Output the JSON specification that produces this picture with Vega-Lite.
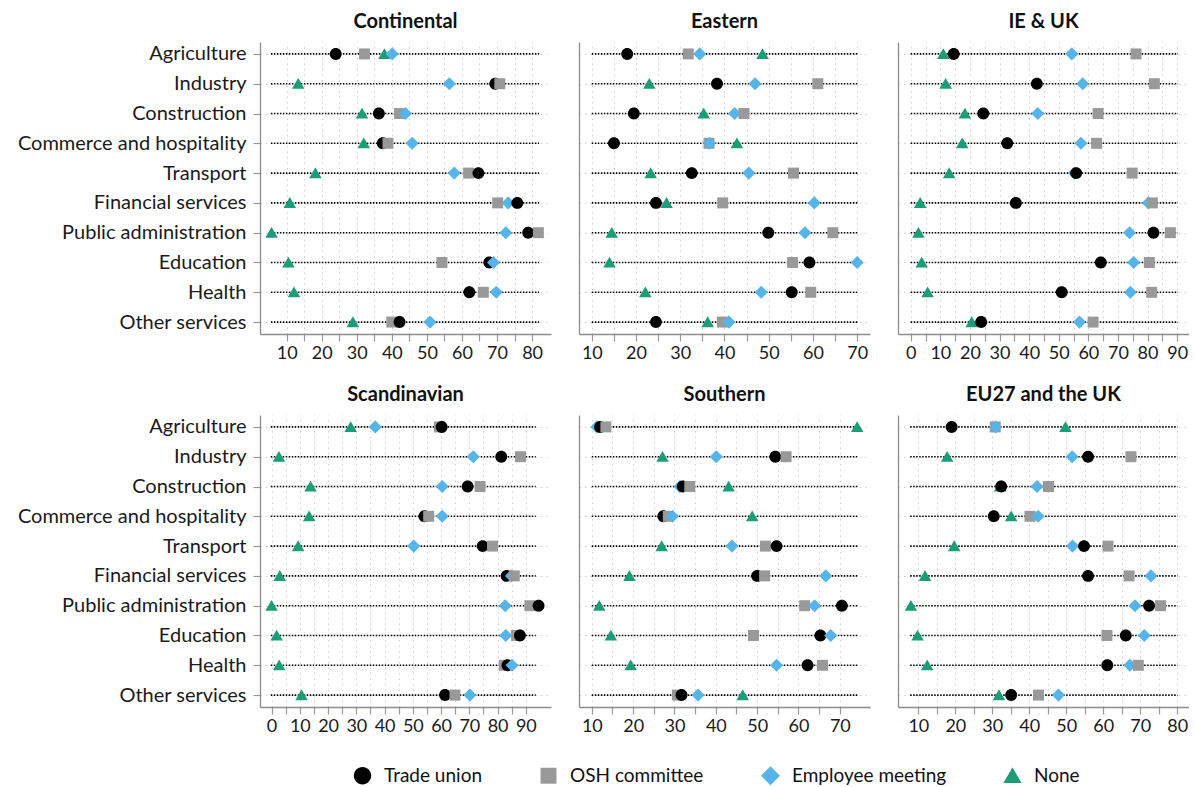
{
  "$schema": "https://vega.github.io/schema/vega-lite/v6.json",
  "padding": {"left": 10, "top": 12, "right": 0, "bottom": 0},
  "spacing": 23,
  "datasets": {
    "ext": [
      {"p": "Continental", "lo": 5.5, "hi": 82},
      {"p": "Eastern", "lo": 10, "hi": 70.2},
      {"p": "IE & UK", "lo": 0, "hi": 90.3},
      {"p": "Scandinavian", "lo": -0.3, "hi": 93.5},
      {"p": "Southern", "lo": 10, "hi": 74.5},
      {"p": "EU27 and the UK", "lo": 7.8, "hi": 80.1}
    ],
    "pts": [
      {"p": "Continental", "s": "Agriculture", "t": "Trade union", "v": 24.0},
      {"p": "Continental", "s": "Agriculture", "t": "OSH committee", "v": 32.2},
      {"p": "Continental", "s": "Agriculture", "t": "Employee meeting", "v": 40.1},
      {"p": "Continental", "s": "Agriculture", "t": "None", "v": 37.9},
      {"p": "Continental", "s": "Industry", "t": "Trade union", "v": 69.5},
      {"p": "Continental", "s": "Industry", "t": "OSH committee", "v": 70.8},
      {"p": "Continental", "s": "Industry", "t": "Employee meeting", "v": 56.4},
      {"p": "Continental", "s": "Industry", "t": "None", "v": 13.3},
      {"p": "Continental", "s": "Construction", "t": "Trade union", "v": 36.3},
      {"p": "Continental", "s": "Construction", "t": "OSH committee", "v": 42.2},
      {"p": "Continental", "s": "Construction", "t": "Employee meeting", "v": 43.9},
      {"p": "Continental", "s": "Construction", "t": "None", "v": 31.5},
      {"p": "Continental", "s": "Commerce and hospitality", "t": "Trade union", "v": 37.4},
      {"p": "Continental", "s": "Commerce and hospitality", "t": "OSH committee", "v": 38.9},
      {"p": "Continental", "s": "Commerce and hospitality", "t": "Employee meeting", "v": 45.8},
      {"p": "Continental", "s": "Commerce and hospitality", "t": "None", "v": 32.0},
      {"p": "Continental", "s": "Transport", "t": "Trade union", "v": 64.7},
      {"p": "Continental", "s": "Transport", "t": "OSH committee", "v": 61.9},
      {"p": "Continental", "s": "Transport", "t": "Employee meeting", "v": 57.8},
      {"p": "Continental", "s": "Transport", "t": "None", "v": 18.2},
      {"p": "Continental", "s": "Financial services", "t": "Trade union", "v": 75.8},
      {"p": "Continental", "s": "Financial services", "t": "OSH committee", "v": 70.2},
      {"p": "Continental", "s": "Financial services", "t": "Employee meeting", "v": 73.2},
      {"p": "Continental", "s": "Financial services", "t": "None", "v": 10.9},
      {"p": "Continental", "s": "Public administration", "t": "Trade union", "v": 78.9},
      {"p": "Continental", "s": "Public administration", "t": "OSH committee", "v": 81.8},
      {"p": "Continental", "s": "Public administration", "t": "Employee meeting", "v": 72.5},
      {"p": "Continental", "s": "Public administration", "t": "None", "v": 5.7},
      {"p": "Continental", "s": "Education", "t": "Trade union", "v": 67.8},
      {"p": "Continental", "s": "Education", "t": "OSH committee", "v": 54.3},
      {"p": "Continental", "s": "Education", "t": "Employee meeting", "v": 69.0},
      {"p": "Continental", "s": "Education", "t": "None", "v": 10.5},
      {"p": "Continental", "s": "Health", "t": "Trade union", "v": 62.1},
      {"p": "Continental", "s": "Health", "t": "OSH committee", "v": 66.1},
      {"p": "Continental", "s": "Health", "t": "Employee meeting", "v": 69.8},
      {"p": "Continental", "s": "Health", "t": "None", "v": 12.1},
      {"p": "Continental", "s": "Other services", "t": "Trade union", "v": 42.2},
      {"p": "Continental", "s": "Other services", "t": "OSH committee", "v": 40.0},
      {"p": "Continental", "s": "Other services", "t": "Employee meeting", "v": 50.9},
      {"p": "Continental", "s": "Other services", "t": "None", "v": 28.9},

      {"p": "Eastern", "s": "Agriculture", "t": "Trade union", "v": 18.0},
      {"p": "Eastern", "s": "Agriculture", "t": "OSH committee", "v": 31.8},
      {"p": "Eastern", "s": "Agriculture", "t": "Employee meeting", "v": 34.4},
      {"p": "Eastern", "s": "Agriculture", "t": "None", "v": 48.6},
      {"p": "Eastern", "s": "Industry", "t": "Trade union", "v": 38.3},
      {"p": "Eastern", "s": "Industry", "t": "OSH committee", "v": 61.1},
      {"p": "Eastern", "s": "Industry", "t": "Employee meeting", "v": 46.9},
      {"p": "Eastern", "s": "Industry", "t": "None", "v": 23.0},
      {"p": "Eastern", "s": "Construction", "t": "Trade union", "v": 19.5},
      {"p": "Eastern", "s": "Construction", "t": "OSH committee", "v": 44.4},
      {"p": "Eastern", "s": "Construction", "t": "Employee meeting", "v": 42.3},
      {"p": "Eastern", "s": "Construction", "t": "None", "v": 35.3},
      {"p": "Eastern", "s": "Commerce and hospitality", "t": "Trade union", "v": 15.0},
      {"p": "Eastern", "s": "Commerce and hospitality", "t": "OSH committee", "v": 36.5},
      {"p": "Eastern", "s": "Commerce and hospitality", "t": "Employee meeting", "v": 36.6},
      {"p": "Eastern", "s": "Commerce and hospitality", "t": "None", "v": 42.8},
      {"p": "Eastern", "s": "Transport", "t": "Trade union", "v": 32.6},
      {"p": "Eastern", "s": "Transport", "t": "OSH committee", "v": 55.6},
      {"p": "Eastern", "s": "Transport", "t": "Employee meeting", "v": 45.5},
      {"p": "Eastern", "s": "Transport", "t": "None", "v": 23.3},
      {"p": "Eastern", "s": "Financial services", "t": "Trade union", "v": 24.5},
      {"p": "Eastern", "s": "Financial services", "t": "OSH committee", "v": 39.6},
      {"p": "Eastern", "s": "Financial services", "t": "Employee meeting", "v": 60.3},
      {"p": "Eastern", "s": "Financial services", "t": "None", "v": 26.9},
      {"p": "Eastern", "s": "Public administration", "t": "Trade union", "v": 49.9},
      {"p": "Eastern", "s": "Public administration", "t": "OSH committee", "v": 64.5},
      {"p": "Eastern", "s": "Public administration", "t": "Employee meeting", "v": 58.2},
      {"p": "Eastern", "s": "Public administration", "t": "None", "v": 14.5},
      {"p": "Eastern", "s": "Education", "t": "Trade union", "v": 59.2},
      {"p": "Eastern", "s": "Education", "t": "OSH committee", "v": 55.4},
      {"p": "Eastern", "s": "Education", "t": "Employee meeting", "v": 70.0},
      {"p": "Eastern", "s": "Education", "t": "None", "v": 14.0},
      {"p": "Eastern", "s": "Health", "t": "Trade union", "v": 55.2},
      {"p": "Eastern", "s": "Health", "t": "OSH committee", "v": 59.5},
      {"p": "Eastern", "s": "Health", "t": "Employee meeting", "v": 48.3},
      {"p": "Eastern", "s": "Health", "t": "None", "v": 22.1},
      {"p": "Eastern", "s": "Other services", "t": "Trade union", "v": 24.5},
      {"p": "Eastern", "s": "Other services", "t": "OSH committee", "v": 39.5},
      {"p": "Eastern", "s": "Other services", "t": "Employee meeting", "v": 41.0},
      {"p": "Eastern", "s": "Other services", "t": "None", "v": 36.2},

      {"p": "IE & UK", "s": "Agriculture", "t": "Trade union", "v": 14.5},
      {"p": "IE & UK", "s": "Agriculture", "t": "OSH committee", "v": 76.1},
      {"p": "IE & UK", "s": "Agriculture", "t": "Employee meeting", "v": 54.4},
      {"p": "IE & UK", "s": "Agriculture", "t": "None", "v": 11.0},
      {"p": "IE & UK", "s": "Industry", "t": "Trade union", "v": 42.6},
      {"p": "IE & UK", "s": "Industry", "t": "OSH committee", "v": 82.3},
      {"p": "IE & UK", "s": "Industry", "t": "Employee meeting", "v": 58.1},
      {"p": "IE & UK", "s": "Industry", "t": "None", "v": 11.8},
      {"p": "IE & UK", "s": "Construction", "t": "Trade union", "v": 24.5},
      {"p": "IE & UK", "s": "Construction", "t": "OSH committee", "v": 63.3},
      {"p": "IE & UK", "s": "Construction", "t": "Employee meeting", "v": 42.9},
      {"p": "IE & UK", "s": "Construction", "t": "None", "v": 18.3},
      {"p": "IE & UK", "s": "Commerce and hospitality", "t": "Trade union", "v": 32.6},
      {"p": "IE & UK", "s": "Commerce and hospitality", "t": "OSH committee", "v": 62.8},
      {"p": "IE & UK", "s": "Commerce and hospitality", "t": "Employee meeting", "v": 57.5},
      {"p": "IE & UK", "s": "Commerce and hospitality", "t": "None", "v": 17.4},
      {"p": "IE & UK", "s": "Transport", "t": "Trade union", "v": 55.9},
      {"p": "IE & UK", "s": "Transport", "t": "OSH committee", "v": 74.8},
      {"p": "IE & UK", "s": "Transport", "t": "Employee meeting", "v": 55.3},
      {"p": "IE & UK", "s": "Transport", "t": "None", "v": 13.0},
      {"p": "IE & UK", "s": "Financial services", "t": "Trade union", "v": 35.5},
      {"p": "IE & UK", "s": "Financial services", "t": "OSH committee", "v": 81.6},
      {"p": "IE & UK", "s": "Financial services", "t": "Employee meeting", "v": 80.3},
      {"p": "IE & UK", "s": "Financial services", "t": "None", "v": 3.2},
      {"p": "IE & UK", "s": "Public administration", "t": "Trade union", "v": 82.0},
      {"p": "IE & UK", "s": "Public administration", "t": "OSH committee", "v": 87.7},
      {"p": "IE & UK", "s": "Public administration", "t": "Employee meeting", "v": 73.9},
      {"p": "IE & UK", "s": "Public administration", "t": "None", "v": 2.6},
      {"p": "IE & UK", "s": "Education", "t": "Trade union", "v": 64.2},
      {"p": "IE & UK", "s": "Education", "t": "OSH committee", "v": 80.6},
      {"p": "IE & UK", "s": "Education", "t": "Employee meeting", "v": 75.3},
      {"p": "IE & UK", "s": "Education", "t": "None", "v": 3.7},
      {"p": "IE & UK", "s": "Health", "t": "Trade union", "v": 51.0},
      {"p": "IE & UK", "s": "Health", "t": "OSH committee", "v": 81.4},
      {"p": "IE & UK", "s": "Health", "t": "Employee meeting", "v": 74.2},
      {"p": "IE & UK", "s": "Health", "t": "None", "v": 5.7},
      {"p": "IE & UK", "s": "Other services", "t": "Trade union", "v": 23.8},
      {"p": "IE & UK", "s": "Other services", "t": "OSH committee", "v": 61.6},
      {"p": "IE & UK", "s": "Other services", "t": "Employee meeting", "v": 57.0},
      {"p": "IE & UK", "s": "Other services", "t": "None", "v": 20.6},

      {"p": "Scandinavian", "s": "Agriculture", "t": "Trade union", "v": 60.2},
      {"p": "Scandinavian", "s": "Agriculture", "t": "OSH committee", "v": 59.4},
      {"p": "Scandinavian", "s": "Agriculture", "t": "Employee meeting", "v": 36.7},
      {"p": "Scandinavian", "s": "Agriculture", "t": "None", "v": 28.0},
      {"p": "Scandinavian", "s": "Industry", "t": "Trade union", "v": 81.3},
      {"p": "Scandinavian", "s": "Industry", "t": "OSH committee", "v": 88.1},
      {"p": "Scandinavian", "s": "Industry", "t": "Employee meeting", "v": 71.4},
      {"p": "Scandinavian", "s": "Industry", "t": "None", "v": 2.6},
      {"p": "Scandinavian", "s": "Construction", "t": "Trade union", "v": 69.4},
      {"p": "Scandinavian", "s": "Construction", "t": "OSH committee", "v": 73.8},
      {"p": "Scandinavian", "s": "Construction", "t": "Employee meeting", "v": 60.4},
      {"p": "Scandinavian", "s": "Construction", "t": "None", "v": 13.8},
      {"p": "Scandinavian", "s": "Commerce and hospitality", "t": "Trade union", "v": 54.1},
      {"p": "Scandinavian", "s": "Commerce and hospitality", "t": "OSH committee", "v": 55.6},
      {"p": "Scandinavian", "s": "Commerce and hospitality", "t": "Employee meeting", "v": 60.4},
      {"p": "Scandinavian", "s": "Commerce and hospitality", "t": "None", "v": 13.3},
      {"p": "Scandinavian", "s": "Transport", "t": "Trade union", "v": 74.7},
      {"p": "Scandinavian", "s": "Transport", "t": "OSH committee", "v": 78.2},
      {"p": "Scandinavian", "s": "Transport", "t": "Employee meeting", "v": 50.3},
      {"p": "Scandinavian", "s": "Transport", "t": "None", "v": 9.4},
      {"p": "Scandinavian", "s": "Financial services", "t": "Trade union", "v": 83.2},
      {"p": "Scandinavian", "s": "Financial services", "t": "OSH committee", "v": 85.9},
      {"p": "Scandinavian", "s": "Financial services", "t": "Employee meeting", "v": 84.9},
      {"p": "Scandinavian", "s": "Financial services", "t": "None", "v": 2.9},
      {"p": "Scandinavian", "s": "Public administration", "t": "Trade union", "v": 94.5},
      {"p": "Scandinavian", "s": "Public administration", "t": "OSH committee", "v": 91.4},
      {"p": "Scandinavian", "s": "Public administration", "t": "Employee meeting", "v": 82.7},
      {"p": "Scandinavian", "s": "Public administration", "t": "None", "v": 0.0},
      {"p": "Scandinavian", "s": "Education", "t": "Trade union", "v": 87.9},
      {"p": "Scandinavian", "s": "Education", "t": "OSH committee", "v": 86.7},
      {"p": "Scandinavian", "s": "Education", "t": "Employee meeting", "v": 82.9},
      {"p": "Scandinavian", "s": "Education", "t": "None", "v": 1.8},
      {"p": "Scandinavian", "s": "Health", "t": "Trade union", "v": 83.5},
      {"p": "Scandinavian", "s": "Health", "t": "OSH committee", "v": 82.4},
      {"p": "Scandinavian", "s": "Health", "t": "Employee meeting", "v": 85.1},
      {"p": "Scandinavian", "s": "Health", "t": "None", "v": 2.7},
      {"p": "Scandinavian", "s": "Other services", "t": "Trade union", "v": 61.4},
      {"p": "Scandinavian", "s": "Other services", "t": "OSH committee", "v": 64.9},
      {"p": "Scandinavian", "s": "Other services", "t": "Employee meeting", "v": 70.2},
      {"p": "Scandinavian", "s": "Other services", "t": "None", "v": 10.6},

      {"p": "Southern", "s": "Agriculture", "t": "Trade union", "v": 12.0},
      {"p": "Southern", "s": "Agriculture", "t": "OSH committee", "v": 13.4},
      {"p": "Southern", "s": "Agriculture", "t": "Employee meeting", "v": 11.2},
      {"p": "Southern", "s": "Agriculture", "t": "None", "v": 74.2},
      {"p": "Southern", "s": "Industry", "t": "Trade union", "v": 54.4},
      {"p": "Southern", "s": "Industry", "t": "OSH committee", "v": 57.0},
      {"p": "Southern", "s": "Industry", "t": "Employee meeting", "v": 40.1},
      {"p": "Southern", "s": "Industry", "t": "None", "v": 27.1},
      {"p": "Southern", "s": "Construction", "t": "Trade union", "v": 32.0},
      {"p": "Southern", "s": "Construction", "t": "OSH committee", "v": 33.7},
      {"p": "Southern", "s": "Construction", "t": "Employee meeting", "v": 31.3},
      {"p": "Southern", "s": "Construction", "t": "None", "v": 43.1},
      {"p": "Southern", "s": "Commerce and hospitality", "t": "Trade union", "v": 27.3},
      {"p": "Southern", "s": "Commerce and hospitality", "t": "OSH committee", "v": 28.5},
      {"p": "Southern", "s": "Commerce and hospitality", "t": "Employee meeting", "v": 29.5},
      {"p": "Southern", "s": "Commerce and hospitality", "t": "None", "v": 48.8},
      {"p": "Southern", "s": "Transport", "t": "Trade union", "v": 54.7},
      {"p": "Southern", "s": "Transport", "t": "OSH committee", "v": 52.0},
      {"p": "Southern", "s": "Transport", "t": "Employee meeting", "v": 43.9},
      {"p": "Southern", "s": "Transport", "t": "None", "v": 26.9},
      {"p": "Southern", "s": "Financial services", "t": "Trade union", "v": 50.0},
      {"p": "Southern", "s": "Financial services", "t": "OSH committee", "v": 51.8},
      {"p": "Southern", "s": "Financial services", "t": "Employee meeting", "v": 66.6},
      {"p": "Southern", "s": "Financial services", "t": "None", "v": 19.1},
      {"p": "Southern", "s": "Public administration", "t": "Trade union", "v": 70.5},
      {"p": "Southern", "s": "Public administration", "t": "OSH committee", "v": 61.5},
      {"p": "Southern", "s": "Public administration", "t": "Employee meeting", "v": 63.9},
      {"p": "Southern", "s": "Public administration", "t": "None", "v": 11.8},
      {"p": "Southern", "s": "Education", "t": "Trade union", "v": 65.3},
      {"p": "Southern", "s": "Education", "t": "OSH committee", "v": 49.1},
      {"p": "Southern", "s": "Education", "t": "Employee meeting", "v": 67.8},
      {"p": "Southern", "s": "Education", "t": "None", "v": 14.6},
      {"p": "Southern", "s": "Health", "t": "Trade union", "v": 62.2},
      {"p": "Southern", "s": "Health", "t": "OSH committee", "v": 65.8},
      {"p": "Southern", "s": "Health", "t": "Employee meeting", "v": 54.7},
      {"p": "Southern", "s": "Health", "t": "None", "v": 19.4},
      {"p": "Southern", "s": "Other services", "t": "Trade union", "v": 31.7},
      {"p": "Southern", "s": "Other services", "t": "OSH committee", "v": 30.7},
      {"p": "Southern", "s": "Other services", "t": "Employee meeting", "v": 35.7},
      {"p": "Southern", "s": "Other services", "t": "None", "v": 46.5},

      {"p": "EU27 and the UK", "s": "Agriculture", "t": "Trade union", "v": 19.0},
      {"p": "EU27 and the UK", "s": "Agriculture", "t": "OSH committee", "v": 30.8},
      {"p": "EU27 and the UK", "s": "Agriculture", "t": "Employee meeting", "v": 30.9},
      {"p": "EU27 and the UK", "s": "Agriculture", "t": "None", "v": 49.8},
      {"p": "EU27 and the UK", "s": "Industry", "t": "Trade union", "v": 55.9},
      {"p": "EU27 and the UK", "s": "Industry", "t": "OSH committee", "v": 67.5},
      {"p": "EU27 and the UK", "s": "Industry", "t": "Employee meeting", "v": 51.6},
      {"p": "EU27 and the UK", "s": "Industry", "t": "None", "v": 17.8},
      {"p": "EU27 and the UK", "s": "Construction", "t": "Trade union", "v": 32.4},
      {"p": "EU27 and the UK", "s": "Construction", "t": "OSH committee", "v": 45.2},
      {"p": "EU27 and the UK", "s": "Construction", "t": "Employee meeting", "v": 42.1},
      {"p": "EU27 and the UK", "s": "Construction", "t": "None", "v": 32.1},
      {"p": "EU27 and the UK", "s": "Commerce and hospitality", "t": "Trade union", "v": 30.4},
      {"p": "EU27 and the UK", "s": "Commerce and hospitality", "t": "OSH committee", "v": 40.2},
      {"p": "EU27 and the UK", "s": "Commerce and hospitality", "t": "Employee meeting", "v": 42.4},
      {"p": "EU27 and the UK", "s": "Commerce and hospitality", "t": "None", "v": 35.1},
      {"p": "EU27 and the UK", "s": "Transport", "t": "Trade union", "v": 54.8},
      {"p": "EU27 and the UK", "s": "Transport", "t": "OSH committee", "v": 61.3},
      {"p": "EU27 and the UK", "s": "Transport", "t": "Employee meeting", "v": 51.7},
      {"p": "EU27 and the UK", "s": "Transport", "t": "None", "v": 19.7},
      {"p": "EU27 and the UK", "s": "Financial services", "t": "Trade union", "v": 55.9},
      {"p": "EU27 and the UK", "s": "Financial services", "t": "OSH committee", "v": 67.0},
      {"p": "EU27 and the UK", "s": "Financial services", "t": "Employee meeting", "v": 72.9},
      {"p": "EU27 and the UK", "s": "Financial services", "t": "None", "v": 11.8},
      {"p": "EU27 and the UK", "s": "Public administration", "t": "Trade union", "v": 72.4},
      {"p": "EU27 and the UK", "s": "Public administration", "t": "OSH committee", "v": 75.5},
      {"p": "EU27 and the UK", "s": "Public administration", "t": "Employee meeting", "v": 68.6},
      {"p": "EU27 and the UK", "s": "Public administration", "t": "None", "v": 8.0},
      {"p": "EU27 and the UK", "s": "Education", "t": "Trade union", "v": 66.1},
      {"p": "EU27 and the UK", "s": "Education", "t": "OSH committee", "v": 61.0},
      {"p": "EU27 and the UK", "s": "Education", "t": "Employee meeting", "v": 71.1},
      {"p": "EU27 and the UK", "s": "Education", "t": "None", "v": 9.8},
      {"p": "EU27 and the UK", "s": "Health", "t": "Trade union", "v": 61.1},
      {"p": "EU27 and the UK", "s": "Health", "t": "OSH committee", "v": 69.5},
      {"p": "EU27 and the UK", "s": "Health", "t": "Employee meeting", "v": 67.2},
      {"p": "EU27 and the UK", "s": "Health", "t": "None", "v": 12.4},
      {"p": "EU27 and the UK", "s": "Other services", "t": "Trade union", "v": 35.1},
      {"p": "EU27 and the UK", "s": "Other services", "t": "OSH committee", "v": 42.5},
      {"p": "EU27 and the UK", "s": "Other services", "t": "Employee meeting", "v": 47.9},
      {"p": "EU27 and the UK", "s": "Other services", "t": "None", "v": 31.8}
    ]
  },
  "config": {
    "font": "Lato",
    "view": {"stroke": null},
    "title": {"fontSize": 20, "fontWeight": "bold", "color": "#111111", "offset": 10},
    "axis": {
      "title": null,
      "grid": true,
      "gridColor": "#cfcfcf",
      "gridDash": [1.5, 4],
      "gridWidth": 1,
      "domainColor": "#8c8c8c",
      "domainWidth": 1.3,
      "tickColor": "#9a9a9a",
      "tickWidth": 1.2,
      "labelColor": "#1a1a1a",
      "labelFont": "Lato"
    },
    "concat": {"spacing": 28}
  },
  "resolve": {"scale": {"x": "independent", "y": "independent", "color": "shared", "shape": "shared"}},
  "vconcat": [
    {
      "spacing": 28,
      "hconcat": [
        {
          "width": 291, "height": 292,
          "title": "Continental",
          "data": {"name": "pts"},
          "transform": [{"filter": {"field": "p", "equal": "Continental"}}],
          "encoding": {
            "y": {"field": "s", "type": "nominal", "scale": {"type": "point", "padding": 0.4, "domain": ["Agriculture", "Industry", "Construction", "Commerce and hospitality", "Transport", "Financial services", "Public administration", "Education", "Health", "Other services"]},
                  "axis": {"labelFontSize": 20, "labelLimit": 320, "tickSize": 7, "labelPadding": 7, "minExtent": 250, "maxExtent": 250}},
            "x": {"field": "v", "type": "quantitative", "scale": {"domain": [2.4, 85.4], "nice": false, "zero": false},
                  "axis": {"values": [10, 15, 20, 25, 30, 35, 40, 45, 50, 55, 60, 65, 70, 75, 80], "labelExpr": "datum.value % 10 === 0 ? datum.label : ''", "labelFontSize": 18, "tickSize": 7, "labelPadding": 3, "labelOverlap": false, "labelFlush": false}}
          },
          "layer": [
            {
              "transform": [
                {"aggregate": [{"op": "count", "as": "n"}], "groupby": ["p", "s"]},
                {"lookup": "p", "from": {"data": {"name": "ext"}, "key": "p", "fields": ["lo", "hi"]}, "as": ["v", "hi"]}
              ],
              "mark": {"type": "rule", "color": "#000000", "strokeDash": [1.5, 1.5], "strokeWidth": 1.6},
              "encoding": {"x2": {"field": "hi"}}
            },
            {
              "mark": {"type": "point", "filled": true, "opacity": 1, "strokeWidth": 0, "size": 142},
              "encoding": {
                "color": {"field": "t", "type": "nominal", "scale": {"domain": ["Trade union", "OSH committee", "Employee meeting", "None"], "range": ["#000000", "#999999", "#56B4E9", "#1B9E77"]},
                          "legend": {"orient": "none", "legendX": 93, "legendY": 724, "direction": "horizontal", "title": null, "labelFontSize": 19, "labelLimit": 300, "labelColor": "#111111", "labelOffset": 12, "columnPadding": 56, "symbolStrokeWidth": 0, "symbolSize": 300}},
                "shape": {"field": "t", "type": "nominal", "scale": {"domain": ["Trade union", "OSH committee", "Employee meeting", "None"], "range": ["M1,0A1,1,0,1,1,-1,0A1,1,0,1,1,1,0Z", "M-0.92,-0.92H0.92V0.92H-0.92Z", "M0,-1.1L1.1,0L0,1.1L-1.1,0Z", "M0,-0.97L1.05,0.85L-1.05,0.85Z"]},
                          "legend": {"orient": "none", "legendX": 93, "legendY": 724, "direction": "horizontal", "title": null, "labelFontSize": 19, "labelLimit": 300, "labelColor": "#111111", "labelOffset": 12, "columnPadding": 56, "symbolStrokeWidth": 0, "symbolSize": 300}},
                "order": {"field": "v", "type": "quantitative"}
              }
            }
          ]
        },
        {
          "width": 291, "height": 292,
          "title": "Eastern",
          "data": {"name": "pts"},
          "transform": [{"filter": {"field": "p", "equal": "Eastern"}}],
          "encoding": {
            "y": {"field": "s", "type": "nominal", "scale": {"type": "point", "padding": 0.4, "domain": ["Agriculture", "Industry", "Construction", "Commerce and hospitality", "Transport", "Financial services", "Public administration", "Education", "Health", "Other services"]},
                  "axis": {"labels": false, "ticks": false, "minExtent": 0, "maxExtent": 0}},
            "x": {"field": "v", "type": "quantitative", "scale": {"domain": [7.1, 72.9], "nice": false, "zero": false},
                  "axis": {"values": [10, 15, 20, 25, 30, 35, 40, 45, 50, 55, 60, 65, 70], "labelExpr": "datum.value % 10 === 0 ? datum.label : ''", "labelFontSize": 18, "tickSize": 7, "labelPadding": 3, "labelOverlap": false, "labelFlush": false}}
          },
          "layer": [
            {
              "transform": [
                {"aggregate": [{"op": "count", "as": "n"}], "groupby": ["p", "s"]},
                {"lookup": "p", "from": {"data": {"name": "ext"}, "key": "p", "fields": ["lo", "hi"]}, "as": ["v", "hi"]}
              ],
              "mark": {"type": "rule", "color": "#000000", "strokeDash": [1.5, 1.5], "strokeWidth": 1.6},
              "encoding": {"x2": {"field": "hi"}}
            },
            {
              "mark": {"type": "point", "filled": true, "opacity": 1, "strokeWidth": 0, "size": 142},
              "encoding": {
                "color": {"field": "t", "type": "nominal", "scale": {"domain": ["Trade union", "OSH committee", "Employee meeting", "None"], "range": ["#000000", "#999999", "#56B4E9", "#1B9E77"]}},
                "shape": {"field": "t", "type": "nominal", "scale": {"domain": ["Trade union", "OSH committee", "Employee meeting", "None"], "range": ["M1,0A1,1,0,1,1,-1,0A1,1,0,1,1,1,0Z", "M-0.92,-0.92H0.92V0.92H-0.92Z", "M0,-1.1L1.1,0L0,1.1L-1.1,0Z", "M0,-0.97L1.05,0.85L-1.05,0.85Z"]}},
                "order": {"field": "v", "type": "quantitative"}
              }
            }
          ]
        },
        {
          "width": 291, "height": 292,
          "title": "IE & UK",
          "data": {"name": "pts"},
          "transform": [{"filter": {"field": "p", "equal": "IE & UK"}}],
          "encoding": {
            "y": {"field": "s", "type": "nominal", "scale": {"type": "point", "padding": 0.4, "domain": ["Agriculture", "Industry", "Construction", "Commerce and hospitality", "Transport", "Financial services", "Public administration", "Education", "Health", "Other services"]},
                  "axis": {"labels": false, "ticks": false, "minExtent": 0, "maxExtent": 0}},
            "x": {"field": "v", "type": "quantitative", "scale": {"domain": [-4.3, 94.0], "nice": false, "zero": false},
                  "axis": {"values": [0, 5, 10, 15, 20, 25, 30, 35, 40, 45, 50, 55, 60, 65, 70, 75, 80, 85, 90], "labelExpr": "datum.value % 10 === 0 ? datum.label : ''", "labelFontSize": 18, "tickSize": 7, "labelPadding": 3, "labelOverlap": false, "labelFlush": false}}
          },
          "layer": [
            {
              "transform": [
                {"aggregate": [{"op": "count", "as": "n"}], "groupby": ["p", "s"]},
                {"lookup": "p", "from": {"data": {"name": "ext"}, "key": "p", "fields": ["lo", "hi"]}, "as": ["v", "hi"]}
              ],
              "mark": {"type": "rule", "color": "#000000", "strokeDash": [1.5, 1.5], "strokeWidth": 1.6},
              "encoding": {"x2": {"field": "hi"}}
            },
            {
              "mark": {"type": "point", "filled": true, "opacity": 1, "strokeWidth": 0, "size": 142},
              "encoding": {
                "color": {"field": "t", "type": "nominal", "scale": {"domain": ["Trade union", "OSH committee", "Employee meeting", "None"], "range": ["#000000", "#999999", "#56B4E9", "#1B9E77"]}},
                "shape": {"field": "t", "type": "nominal", "scale": {"domain": ["Trade union", "OSH committee", "Employee meeting", "None"], "range": ["M1,0A1,1,0,1,1,-1,0A1,1,0,1,1,1,0Z", "M-0.92,-0.92H0.92V0.92H-0.92Z", "M0,-1.1L1.1,0L0,1.1L-1.1,0Z", "M0,-0.97L1.05,0.85L-1.05,0.85Z"]}},
                "order": {"field": "v", "type": "quantitative"}
              }
            }
          ]
        }
      ]
    },
    {
      "spacing": 28,
      "hconcat": [
        {
          "width": 291, "height": 292,
          "title": "Scandinavian",
          "data": {"name": "pts"},
          "transform": [{"filter": {"field": "p", "equal": "Scandinavian"}}],
          "encoding": {
            "y": {"field": "s", "type": "nominal", "scale": {"type": "point", "padding": 0.4, "domain": ["Agriculture", "Industry", "Construction", "Commerce and hospitality", "Transport", "Financial services", "Public administration", "Education", "Health", "Other services"]},
                  "axis": {"labelFontSize": 20, "labelLimit": 320, "tickSize": 7, "labelPadding": 7, "minExtent": 250, "maxExtent": 250}},
            "x": {"field": "v", "type": "quantitative", "scale": {"domain": [-4.1, 98.9], "nice": false, "zero": false},
                  "axis": {"values": [0, 5, 10, 15, 20, 25, 30, 35, 40, 45, 50, 55, 60, 65, 70, 75, 80, 85, 90], "labelExpr": "datum.value % 10 === 0 ? datum.label : ''", "labelFontSize": 18, "tickSize": 7, "labelPadding": 3, "labelOverlap": false, "labelFlush": false}}
          },
          "layer": [
            {
              "transform": [
                {"aggregate": [{"op": "count", "as": "n"}], "groupby": ["p", "s"]},
                {"lookup": "p", "from": {"data": {"name": "ext"}, "key": "p", "fields": ["lo", "hi"]}, "as": ["v", "hi"]}
              ],
              "mark": {"type": "rule", "color": "#000000", "strokeDash": [1.5, 1.5], "strokeWidth": 1.6},
              "encoding": {"x2": {"field": "hi"}}
            },
            {
              "mark": {"type": "point", "filled": true, "opacity": 1, "strokeWidth": 0, "size": 142},
              "encoding": {
                "color": {"field": "t", "type": "nominal", "scale": {"domain": ["Trade union", "OSH committee", "Employee meeting", "None"], "range": ["#000000", "#999999", "#56B4E9", "#1B9E77"]}},
                "shape": {"field": "t", "type": "nominal", "scale": {"domain": ["Trade union", "OSH committee", "Employee meeting", "None"], "range": ["M1,0A1,1,0,1,1,-1,0A1,1,0,1,1,1,0Z", "M-0.92,-0.92H0.92V0.92H-0.92Z", "M0,-1.1L1.1,0L0,1.1L-1.1,0Z", "M0,-0.97L1.05,0.85L-1.05,0.85Z"]}},
                "order": {"field": "v", "type": "quantitative"}
              }
            }
          ]
        },
        {
          "width": 291, "height": 292,
          "title": "Southern",
          "data": {"name": "pts"},
          "transform": [{"filter": {"field": "p", "equal": "Southern"}}],
          "encoding": {
            "y": {"field": "s", "type": "nominal", "scale": {"type": "point", "padding": 0.4, "domain": ["Agriculture", "Industry", "Construction", "Commerce and hospitality", "Transport", "Financial services", "Public administration", "Education", "Health", "Other services"]},
                  "axis": {"labels": false, "ticks": false, "minExtent": 0, "maxExtent": 0}},
            "x": {"field": "v", "type": "quantitative", "scale": {"domain": [6.9, 77.3], "nice": false, "zero": false},
                  "axis": {"values": [10, 15, 20, 25, 30, 35, 40, 45, 50, 55, 60, 65, 70], "labelExpr": "datum.value % 10 === 0 ? datum.label : ''", "labelFontSize": 18, "tickSize": 7, "labelPadding": 3, "labelOverlap": false, "labelFlush": false}}
          },
          "layer": [
            {
              "transform": [
                {"aggregate": [{"op": "count", "as": "n"}], "groupby": ["p", "s"]},
                {"lookup": "p", "from": {"data": {"name": "ext"}, "key": "p", "fields": ["lo", "hi"]}, "as": ["v", "hi"]}
              ],
              "mark": {"type": "rule", "color": "#000000", "strokeDash": [1.5, 1.5], "strokeWidth": 1.6},
              "encoding": {"x2": {"field": "hi"}}
            },
            {
              "mark": {"type": "point", "filled": true, "opacity": 1, "strokeWidth": 0, "size": 142},
              "encoding": {
                "color": {"field": "t", "type": "nominal", "scale": {"domain": ["Trade union", "OSH committee", "Employee meeting", "None"], "range": ["#000000", "#999999", "#56B4E9", "#1B9E77"]}},
                "shape": {"field": "t", "type": "nominal", "scale": {"domain": ["Trade union", "OSH committee", "Employee meeting", "None"], "range": ["M1,0A1,1,0,1,1,-1,0A1,1,0,1,1,1,0Z", "M-0.92,-0.92H0.92V0.92H-0.92Z", "M0,-1.1L1.1,0L0,1.1L-1.1,0Z", "M0,-0.97L1.05,0.85L-1.05,0.85Z"]}},
                "order": {"field": "v", "type": "quantitative"}
              }
            }
          ]
        },
        {
          "width": 291, "height": 292,
          "title": "EU27 and the UK",
          "data": {"name": "pts"},
          "transform": [{"filter": {"field": "p", "equal": "EU27 and the UK"}}],
          "encoding": {
            "y": {"field": "s", "type": "nominal", "scale": {"type": "point", "padding": 0.4, "domain": ["Agriculture", "Industry", "Construction", "Commerce and hospitality", "Transport", "Financial services", "Public administration", "Education", "Health", "Other services"]},
                  "axis": {"labels": false, "ticks": false, "minExtent": 0, "maxExtent": 0}},
            "x": {"field": "v", "type": "quantitative", "scale": {"domain": [4.5, 83.2], "nice": false, "zero": false},
                  "axis": {"values": [10, 15, 20, 25, 30, 35, 40, 45, 50, 55, 60, 65, 70, 75, 80], "labelExpr": "datum.value % 10 === 0 ? datum.label : ''", "labelFontSize": 18, "tickSize": 7, "labelPadding": 3, "labelOverlap": false, "labelFlush": false}}
          },
          "layer": [
            {
              "transform": [
                {"aggregate": [{"op": "count", "as": "n"}], "groupby": ["p", "s"]},
                {"lookup": "p", "from": {"data": {"name": "ext"}, "key": "p", "fields": ["lo", "hi"]}, "as": ["v", "hi"]}
              ],
              "mark": {"type": "rule", "color": "#000000", "strokeDash": [1.5, 1.5], "strokeWidth": 1.6},
              "encoding": {"x2": {"field": "hi"}}
            },
            {
              "mark": {"type": "point", "filled": true, "opacity": 1, "strokeWidth": 0, "size": 142},
              "encoding": {
                "color": {"field": "t", "type": "nominal", "scale": {"domain": ["Trade union", "OSH committee", "Employee meeting", "None"], "range": ["#000000", "#999999", "#56B4E9", "#1B9E77"]}},
                "shape": {"field": "t", "type": "nominal", "scale": {"domain": ["Trade union", "OSH committee", "Employee meeting", "None"], "range": ["M1,0A1,1,0,1,1,-1,0A1,1,0,1,1,1,0Z", "M-0.92,-0.92H0.92V0.92H-0.92Z", "M0,-1.1L1.1,0L0,1.1L-1.1,0Z", "M0,-0.97L1.05,0.85L-1.05,0.85Z"]}},
                "order": {"field": "v", "type": "quantitative"}
              }
            }
          ]
        }
      ]
    }
  ]
}
